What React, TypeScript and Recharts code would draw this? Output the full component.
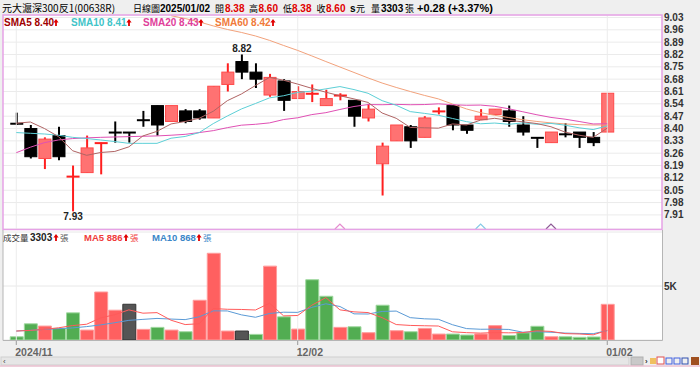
import React from "react";
import {
  ComposedChart,
  Bar,
  Line,
  XAxis,
  YAxis,
  CartesianGrid,
  ReferenceLine,
  ReferenceDot,
  Cell,
} from "recharts";

const dates = [
  "2024/11/04", "2024/11/05", "2024/11/06", "2024/11/07", "2024/11/08",
  "2024/11/11", "2024/11/12", "2024/11/13", "2024/11/14", "2024/11/15",
  "2024/11/18", "2024/11/19", "2024/11/20", "2024/11/21", "2024/11/22",
  "2024/11/25", "2024/11/26", "2024/11/27", "2024/11/28", "2024/11/29",
  "2024/12/02", "2024/12/03", "2024/12/04", "2024/12/05", "2024/12/06",
  "2024/12/09", "2024/12/10", "2024/12/11", "2024/12/12", "2024/12/13",
  "2024/12/16", "2024/12/17", "2024/12/18", "2024/12/19", "2024/12/20",
  "2024/12/23", "2024/12/24", "2024/12/25", "2024/12/26", "2024/12/27",
  "2024/12/30", "2024/12/31", "2025/01/02",
];

const opens = [8.43, 8.4, 8.23, 8.36, 8.12, 8.15, 8.31, 8.38, 8.38, 8.45, 8.53, 8.44, 8.5, 8.5, 8.46, 8.65, 8.78, 8.72, 8.59, 8.67, 8.57, 8.6, 8.53, 8.58, 8.56, 8.46, 8.2, 8.33, 8.41, 8.35, 8.5, 8.53, 8.42, 8.45, 8.48, 8.5, 8.42, 8.35, 8.32, 8.37, 8.38, 8.35, 8.38];
const highs = [8.49, 8.42, 8.35, 8.41, 8.19, 8.36, 8.32, 8.44, 8.38, 8.5, 8.53, 8.53, 8.51, 8.51, 8.64, 8.77, 8.82, 8.77, 8.71, 8.68, 8.64, 8.65, 8.62, 8.6, 8.56, 8.54, 8.32, 8.42, 8.42, 8.47, 8.52, 8.53, 8.42, 8.51, 8.51, 8.53, 8.47, 8.35, 8.38, 8.43, 8.38, 8.38, 8.6];
const lows = [8.42, 8.23, 8.17, 8.22, 7.93, 8.15, 8.14, 8.32, 8.32, 8.41, 8.36, 8.44, 8.43, 8.45, 8.46, 8.61, 8.68, 8.63, 8.58, 8.5, 8.57, 8.55, 8.53, 8.56, 8.41, 8.44, 8.02, 8.33, 8.29, 8.35, 8.48, 8.39, 8.37, 8.45, 8.48, 8.41, 8.36, 8.29, 8.32, 8.35, 8.29, 8.3, 8.38];
const closes = [8.42, 8.24, 8.34, 8.24, 8.13, 8.29, 8.32, 8.37, 8.37, 8.44, 8.42, 8.53, 8.44, 8.46, 8.64, 8.72, 8.72, 8.68, 8.69, 8.56, 8.61, 8.6, 8.57, 8.59, 8.47, 8.51, 8.3, 8.42, 8.33, 8.46, 8.5, 8.42, 8.39, 8.47, 8.51, 8.44, 8.38, 8.34, 8.38, 8.36, 8.35, 8.32, 8.6];
const prevClose = 8.45;

const sma5 = [8.43, 8.437, 8.4, 8.354, 8.274, 8.248, 8.264, 8.27, 8.296, 8.358, 8.384, 8.426, 8.44, 8.458, 8.498, 8.558, 8.596, 8.644, 8.69, 8.674, 8.652, 8.628, 8.606, 8.586, 8.568, 8.548, 8.488, 8.458, 8.406, 8.404, 8.402, 8.426, 8.42, 8.448, 8.458, 8.446, 8.438, 8.428, 8.41, 8.38, 8.362, 8.35, 8.402];
const sma10 = [8.377, 8.373, 8.369, 8.362, 8.35, 8.343, 8.335, 8.326, 8.316, 8.316, 8.316, 8.345, 8.355, 8.377, 8.428, 8.471, 8.511, 8.542, 8.574, 8.586, 8.605, 8.612, 8.625, 8.638, 8.621, 8.6, 8.558, 8.532, 8.496, 8.486, 8.475, 8.457, 8.439, 8.427, 8.431, 8.424, 8.432, 8.424, 8.429, 8.419, 8.404, 8.394, 8.415];
const sma20 = [8.263, 8.294, 8.32, 8.335, 8.343, 8.347, 8.35, 8.352, 8.354, 8.356, 8.358, 8.362, 8.367, 8.377, 8.388, 8.405, 8.419, 8.424, 8.432, 8.451, 8.461, 8.479, 8.49, 8.508, 8.525, 8.536, 8.535, 8.537, 8.535, 8.536, 8.54, 8.535, 8.532, 8.533, 8.526, 8.512, 8.495, 8.478, 8.463, 8.453, 8.44, 8.426, 8.427];
const sma60 = [null, null, null, null, null, null, null, null, null, null, null, 9.04, 9.024, 9.005, 8.982, 8.962, 8.945, 8.925, 8.9, 8.871, 8.843, 8.812, 8.78, 8.749, 8.718, 8.687, 8.658, 8.633, 8.61, 8.588, 8.568, 8.539, 8.511, 8.49, 8.475, 8.462, 8.45, 8.44, 8.432, 8.426, 8.422, 8.42, 8.42];

const volumes = [300, 1500, 1290, 1075, 2515, 920, 4445, 2760, 3310, 985, 1170, 920, 765, 3680, 8030, 830, 830, 520, 6840, 2145, 1010, 5580, 4050, 1170, 1225, 675, 3220, 860, 765, 1075, 550, 550, 460, 560, 1330, 420, 660, 1270, 300, 300, 250, 280, 3303];
const volMa5 = [830, 890, 985, 1130, 1336, 1460, 2049, 2343, 2790, 2484, 2534, 1829, 1430, 1504, 2913, 2845, 2827, 2778, 3410, 2233, 2269, 3219, 3925, 2791, 2607, 2540, 2068, 1430, 1349, 1319, 1294, 760, 680, 639, 690, 664, 686, 848, 796, 590, 556, 480, 887];
const volMa10 = [830, 900, 980, 1050, 1120, 1240, 1400, 1600, 1820, 1910, 1997, 1939, 1887, 2147, 2699, 2690, 2328, 2104, 2457, 2573, 2557, 3023, 3352, 3101, 2420, 2405, 2644, 2678, 2070, 1963, 1917, 1414, 1055, 994, 1005, 979, 723, 764, 718, 640, 610, 583, 867];

const priceTicks = [9.03, 8.96, 8.89, 8.82, 8.75, 8.68, 8.61, 8.54, 8.47, 8.4, 8.33, 8.26, 8.19, 8.12, 8.05, 7.98, 7.91];
const volTicks = [5000];
const xTicks = [0, 20, 42];
const xTickLabels = ["2024/11", "12/02", "01/02"];
const markerIdx = [23, 33, 38];
const markerColors = ["#e58ccf", "#86cbe6", "#8e5a96"];

const X_DOMAIN = [-0.945, 45.89];
const LATIN = "'Liberation Sans', Arial, sans-serif";
const CJK = "'Noto Sans CJK TC', 'Noto Sans', sans-serif";
const UP = "#ff1f1f";

const rows = dates.map((date, i) => {
  const pc = i === 0 ? prevClose : closes[i - 1];
  return {
    i,
    date,
    o: opens[i],
    h: highs[i],
    l: lows[i],
    c: closes[i],
    range: [lows[i], highs[i]],
    sma5: sma5[i],
    sma10: sma10[i],
    sma20: sma20[i],
    sma60: sma60[i],
    vol: volumes[i],
    vma5: volMa5[i],
    vma10: volMa10[i],
    dir: closes[i] > pc ? 1 : closes[i] < pc ? -1 : 0,
  };
});

const hiIdx = highs.indexOf(Math.max(...highs));
const loIdx = lows.indexOf(Math.min(...lows));

function Candle(props: any) {
  const { x, y, width, height, payload } = props;
  if (!payload) return null;
  const { o, h, l, c, i } = payload;
  const top = Math.min(y, y + height);
  const span = Math.abs(height);
  const k = span / (h - l);
  const cx = x + width / 2;
  const yo = top + (h - o) * k;
  const yc = top + (h - c) * k;
  const up = c >= o;
  const wick = up ? UP : "#000";
  const bTop = Math.min(yo, yc);
  const bH = Math.abs(yo - yc);
  return (
    <g>
      <line x1={cx} x2={cx} y1={top} y2={top + span} stroke={wick} strokeWidth={2} />
      {bH < 2 ? (
        <rect x={x} y={bTop - 0.5} width={width} height={Math.max(bH, 2)} fill={wick} />
      ) : (
        <rect
          x={x + 0.5}
          y={bTop}
          width={width - 1}
          height={bH}
          fill={up ? "#ff7272" : "#000"}
          stroke={up ? "#ff4a4a" : "#000"}
          strokeWidth={1}
        />
      )}
      {i === hiIdx && (
        <text x={cx} y={top - 2} textAnchor="middle" fontSize={10} fontWeight="bold" fontFamily={LATIN} fill="#222">
          {h.toFixed(2)}
        </text>
      )}
      {i === loIdx && (
        <text x={cx} y={top + span + 9} textAnchor="middle" fontSize={10} fontWeight="bold" fontFamily={LATIN} fill="#222">
          {l.toFixed(2)}
        </text>
      )}
    </g>
  );
}

function Marker(props: any) {
  const { cx, cy, fill } = props;
  return <path d={`M${cx - 5},${cy} L${cx},${cy - 5} L${cx + 5},${cy}`} fill="none" stroke={fill} strokeWidth={1.2} />;
}

function PriceTick(props: any) {
  const { x, y, payload } = props;
  return (
    <text x={x} y={y + 3.5} fontSize={10} fontWeight="bold" fontFamily={LATIN} fill="#333">
      {payload.value.toFixed(2)}
    </text>
  );
}

function VolTick(props: any) {
  const { x, y, payload } = props;
  return (
    <text x={x} y={y + 3.5} fontSize={10} fontWeight="bold" fontFamily={LATIN} fill="#333">
      {payload.value / 1000 + "K"}
    </text>
  );
}

function DateTick(props: any) {
  const { x, y, payload } = props;
  const idx = xTicks.indexOf(payload.value);
  return (
    <g>
      <line x1={x} x2={x} y1={y + 1} y2={y + 5} stroke="#999" />
      <text x={x - 1} y={y + 15.5} fontSize={10.5} fontWeight="bold" fontFamily={LATIN} fill="#666">
        {xTickLabels[idx]}
      </text>
    </g>
  );
}

function Arrow({ x, y }: { x: number; y: number }) {
  return (
    <path d={`M${x},${y - 7} L${x - 2.6},${y - 3.5} L${x - 0.9},${y - 3.5} L${x - 0.9},${y} L${x + 0.9},${y} L${x + 0.9},${y - 3.5} L${x + 2.6},${y - 3.5} Z`} fill="#e00000" />
  );
}

export default function App() {
  const hdr = { fontFamily: LATIN, fontWeight: "bold" as const, fontSize: 10 };
  const cjk = { fontFamily: CJK, fontSize: 9 };
  return (
    <div style={{ position: "absolute", left: 0, top: 0, width: 700, height: 367, background: "#efefef", overflow: "hidden" }}>
      <svg width={700} height={367} style={{ position: "absolute", left: 0, top: 0 }}>
        <rect x={0} y={0} width={700} height={367} fill="#efefef" />
        <rect x={3} y={15} width={659} height={214} fill="#fff" />
        <rect x={3} y={230} width={659} height={110} fill="#fff" />
      </svg>

      <div style={{ position: "absolute", left: 0, top: 0 }}>
        <ComposedChart width={700} height={232} data={rows} margin={{ top: 15, right: 0, bottom: 3, left: 3 }}>
          <CartesianGrid vertical={false} stroke="#ebebeb" />
          <XAxis type="number" dataKey="i" domain={X_DOMAIN} hide allowDataOverflow />
          <YAxis
            orientation="right"
            domain={[7.83, 9.044]}
            ticks={priceTicks}
            allowDataOverflow
            width={38}
            axisLine={false}
            tickLine={false}
            tickSize={0}
            tickMargin={2}
            tick={<PriceTick />}
            interval={0}
          />
          {xTicks.map((t) => (
            <ReferenceLine key={t} x={t} stroke="#ececec" />
          ))}
          <Line dataKey="sma60" stroke="#f2a27c" strokeWidth={1} dot={false} isAnimationActive={false} />
          <Line dataKey="sma20" stroke="#e050b4" strokeWidth={1} dot={false} isAnimationActive={false} />
          <Line dataKey="sma10" stroke="#5ccfd6" strokeWidth={1} dot={false} isAnimationActive={false} />
          <Line dataKey="sma5" stroke="#b06464" strokeWidth={1} dot={false} isAnimationActive={false} />
          <Bar dataKey="range" barSize={13} shape={<Candle />} isAnimationActive={false} />
          {markerIdx.map((m, j) => (
            <ReferenceDot key={m} x={m} y={7.83} r={5} fill={markerColors[j]} shape={<Marker />} />
          ))}
        </ComposedChart>
      </div>

      <div style={{ position: "absolute", left: 0, top: 229 }}>
        <ComposedChart width={700} height={138} data={rows} margin={{ top: 3, right: 0, bottom: 0, left: 3 }}>
          <CartesianGrid vertical={false} stroke="#e8e8e8" />
          <XAxis
            type="number"
            dataKey="i"
            domain={X_DOMAIN}
            allowDataOverflow
            ticks={xTicks}
            interval={0}
            height={27}
            axisLine={false}
            tickLine={false}
            tickSize={0}
            tickMargin={0}
            tick={<DateTick />}
          />
          <YAxis
            orientation="right"
            domain={[0, 10000]}
            ticks={volTicks}
            allowDataOverflow
            width={38}
            axisLine={false}
            tickLine={false}
            tickSize={0}
            tickMargin={2}
            tick={<VolTick />}
          />
          {xTicks.map((t) => (
            <ReferenceLine key={t} x={t} stroke="#ececec" />
          ))}
          <Bar dataKey="vol" barSize={13} isAnimationActive={false}>
            {rows.map((r) => (
              <Cell
                key={r.i}
                fill={r.dir > 0 ? "#ff6060" : r.dir < 0 ? "#52ad52" : "#555"}
                stroke={r.dir > 0 ? "#ff9c9c" : r.dir < 0 ? "#9fd89f" : "#333"}
              />
            ))}
          </Bar>
          <Line dataKey="vma10" stroke="#5a9ad6" strokeWidth={1} dot={false} isAnimationActive={false} />
          <Line dataKey="vma5" stroke="#ff5a5a" strokeWidth={1} dot={false} isAnimationActive={false} />
        </ComposedChart>
      </div>

      <svg width={700} height={367} style={{ position: "absolute", left: 0, top: 0, pointerEvents: "none" }}>
        <rect x={3} y={15} width={659} height={214.5} fill="none" stroke="#e6a2e6" strokeWidth={1.5} />
        <path d="M3,230 L3,340.5 L662.5,340.5 L662.5,230" fill="none" stroke="#b5b5b5" />

        {/* header */}
        <text x={2} y={11.5} fontFamily={CJK} fontSize={10} fill="#000">元大滬深300反1(00638R)</text>
        <text x={133} y={11.5} {...cjk} fill="#000">日線圖</text>
        <text x={160} y={11.5} {...hdr} fill="#000">2025/01/02</text>
        <text x={215} y={11.5} {...cjk} fill="#000">開</text>
        <text x={225} y={11.5} {...hdr} fill="#e00000">8.38</text>
        <text x={249} y={11.5} {...cjk} fill="#000">高</text>
        <text x={258.5} y={11.5} {...hdr} fill="#e00000">8.60</text>
        <text x={283} y={11.5} {...cjk} fill="#000">低</text>
        <text x={292} y={11.5} {...hdr} fill="#e00000">8.38</text>
        <text x={316.5} y={11.5} {...cjk} fill="#000">收</text>
        <text x={326} y={11.5} {...hdr} fill="#e00000">8.60</text>
        <text x={350} y={11.5} {...hdr} fill="#000">s</text>
        <text x={356} y={11.5} {...cjk} fill="#000">元</text>
        <text x={371} y={11.5} {...cjk} fill="#000">量</text>
        <text x={381} y={11.5} {...hdr} fill="#000">3303</text>
        <text x={405} y={11.5} {...cjk} fill="#000">張</text>
        <text x={417} y={11.5} {...hdr} fontSize={11} fill="#000">+0.28 (+3.37%)</text>

        {/* SMA legend */}
        <text x={4} y={26} fontFamily={LATIN} fontWeight="bold" fontSize={10} fill="#a00000">SMA5 8.40</text>
        <Arrow x={56} y={26} />
        <text x={71} y={26} fontFamily={LATIN} fontWeight="bold" fontSize={10} fill="#3fc4c8">SMA10 8.41</text>
        <Arrow x={129} y={26} />
        <text x={143} y={26} fontFamily={LATIN} fontWeight="bold" fontSize={10} fill="#e0409a">SMA20 8.43</text>
        <Arrow x={201} y={26} />
        <text x={215} y={26} fontFamily={LATIN} fontWeight="bold" fontSize={10} fill="#f07a3a">SMA60 8.42</text>
        <Arrow x={273} y={26} />

        {/* volume legend */}
        <text x={3} y={241} fontFamily={CJK} fontSize={8.5} fill="#333">成交量</text>
        <text x={30} y={241} fontFamily={LATIN} fontWeight="bold" fontSize={10} fill="#222">3303</text>
        <Arrow x={56} y={241} />
        <text x={60} y={241} fontFamily={CJK} fontSize={8.5} fill="#555">張</text>
        <text x={84} y={241} fontFamily={LATIN} fontWeight="bold" fontSize={9.5} fill="#f03c3c">MA5 886</text>
        <Arrow x={126} y={241} />
        <text x={130} y={241} fontFamily={CJK} fontSize={8.5} fill="#f03c3c">張</text>
        <text x={152} y={241} fontFamily={LATIN} fontWeight="bold" fontSize={9.5} fill="#3a86c8">MA10 868</text>
        <Arrow x={199} y={241} />
        <text x={203} y={241} fontFamily={CJK} fontSize={8.5} fill="#3a86c8">張</text>

        {/* scroll bar */}
        <rect x={1} y={357} width={628} height={8} fill="#e6e6e6" stroke="#cfcfcf" />
        <text x={3} y={364} fontFamily={LATIN} fontSize={8} fill="#444">‹</text>
        <rect x={631} y={357} width={12} height={8} fill="#c9c9c9" stroke="#b0b0b0" />
        <text x={645} y={364} fontFamily={LATIN} fontSize={8} fontWeight="bold" fill="#333">›</text>
        <rect x={650} y={358} width={6} height={6} fill="#f0c060" />
        <rect x={657} y={357} width={7} height={7} fill="#fff" stroke="#e05050" />
        <rect x={666} y={358} width={6} height={6} fill="none" stroke="#4060e0" />
        <rect x={674} y={358} width={6} height={6} fill="none" stroke="#4060e0" />
        <rect x={682} y={358} width={6} height={6} fill="none" stroke="#3050b0" />
        <rect x={691} y={357} width={8} height={8} fill="#a05020" />
        <line x1={0} x2={700} y1={366} y2={366} stroke="#f0b0c8" />
      </svg>
    </div>
  );
}
